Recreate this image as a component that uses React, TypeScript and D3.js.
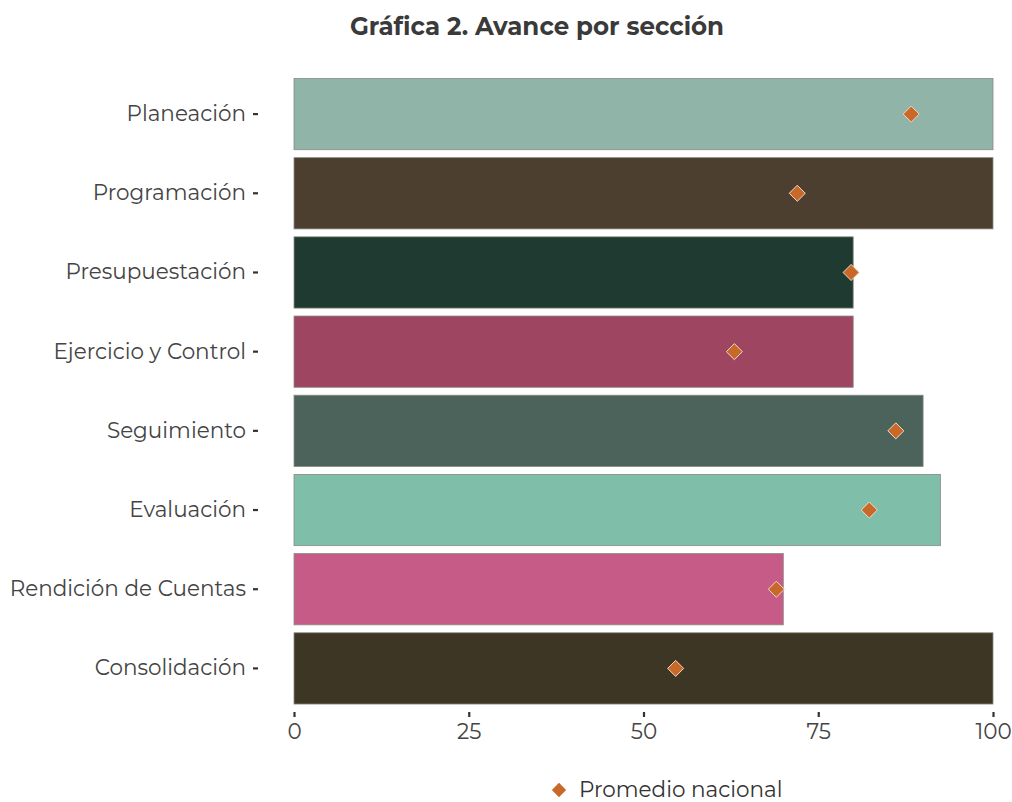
import { useEffect, useRef } from 'react'
import * as d3 from 'd3'

const categories = [
  'Planeación',
  'Programación',
  'Presupuestación',
  'Ejercicio y Control',
  'Seguimiento',
  'Evaluación',
  'Rendición de Cuentas',
  'Consolidación',
]
const avance = [100, 100, 80, 80, 90, 92.5, 70, 100]
const promedioNacional = [88.3, 72, 79.7, 63, 86.1, 82.3, 69, 54.6]
const barColors = ['#90b4a8', '#4c3f2f', '#1f3a30', '#9e4562', '#4c635b', '#7fbfaa', '#c75b88', '#3d3624']
const xTicks = [0, 25, 50, 75, 100]

const FONT = 'Montserrat, "Noto Sans", "Open Sans", sans-serif'

export default function App() {
  const svgRef = useRef<SVGSVGElement>(null)

  useEffect(() => {
    const svgEl = svgRef.current
    if (!svgEl) return
    document.body.style.margin = '0'
    document.body.style.overflow = 'hidden'
    const width = 1012
    const height = 802

    const svg = d3.select(svgEl)
    svg.attr('width', width).attr('height', height).selectAll('*').remove()

    const x = d3.scaleLinear().domain([0, 100]).range([294, 993])
    const y = d3.scaleBand<string>().domain(categories).range([74.5, 708]).paddingInner(0.1).paddingOuter(0.05)

    // Title
    svg.append('text')
      .attr('x', 537)
      .attr('y', 35)
      .attr('text-anchor', 'middle')
      .style('font-family', FONT)
      .style('font-weight', '700')
      .style('font-size', '24.5px')
      .style('fill', '#3a3a3a')
      .text('Gráfica 2. Avance por sección')

    // Bars
    svg.append('g')
      .selectAll('rect')
      .data(categories)
      .enter()
      .append('rect')
      .attr('x', x(0))
      .attr('y', d => y(d)!)
      .attr('width', (_, i) => x(avance[i]) - x(0))
      .attr('height', y.bandwidth())
      .style('fill', (_, i) => barColors[i])
      .style('stroke', '#8a8a80')
      .style('stroke-width', '0.8')

    // Diamonds
    const sym = d3.symbol().type(d3.symbolDiamond2).size(165)
    svg.append('g')
      .selectAll('path')
      .data(categories)
      .enter()
      .append('path')
      .attr('d', sym)
      .attr('transform', (d, i) => `translate(${x(promedioNacional[i])},${y(d)! + y.bandwidth() / 2})`)
      .style('fill', '#c8692a')
      .style('stroke', '#f0d8c8')
      .style('stroke-width', '1')

    // Y axis
    const yAxisG = svg.append('g').attr('transform', 'translate(258,0)')
    yAxisG.call(d3.axisLeft(y).tickSize(5).tickPadding(7))
    yAxisG.select('.domain').remove()
    yAxisG.selectAll('.tick line').style('stroke', '#333').style('stroke-width', '2.2')
    yAxisG.selectAll('text')
      .style('font-family', FONT)
      .style('font-size', '21.5px')
      .style('fill', '#444')

    // X axis
    const xAxisG = svg.append('g').attr('transform', 'translate(0,712)')
    xAxisG.call(d3.axisBottom(x).tickValues(xTicks).tickSize(5).tickPadding(7))
    xAxisG.select('.domain').remove()
    xAxisG.selectAll('.tick line').style('stroke', '#333').style('stroke-width', '2.2')
    xAxisG.selectAll('text')
      .style('font-family', FONT)
      .style('font-size', '21.5px')
      .style('fill', '#444')

    // Legend
    const lg = svg.append('g').attr('transform', 'translate(559,790)')
    lg.append('path')
      .attr('d', d3.symbol().type(d3.symbolDiamond2).size(130))
      .style('fill', '#c8692a')
    lg.append('text')
      .attr('x', 20)
      .attr('y', 7)
      .style('font-family', FONT)
      .style('font-size', '21.5px')
      .style('fill', '#333')
      .text('Promedio nacional')
  }, [])

  return (
    <div style={{ position: 'absolute', left: 0, top: 0 }}>
      <svg ref={svgRef} style={{ display: 'block' }} />
    </div>
  )
}
